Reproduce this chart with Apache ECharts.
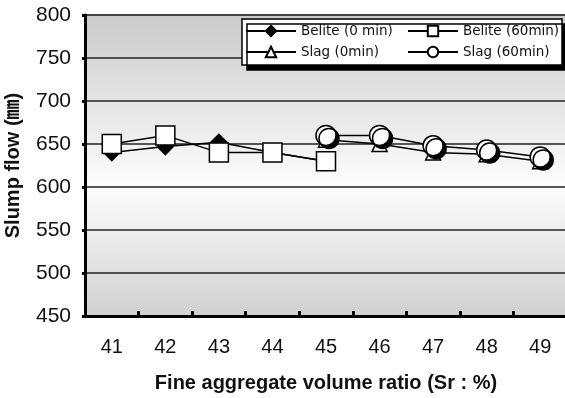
<!DOCTYPE html>
<html>
<head>
<meta charset="utf-8">
<script src="https://cdn.jsdelivr.net/npm/echarts@6/dist/echarts.min.js"></script>
<style>
  html, body { margin: 0; padding: 0; background: #fff; }
  #chart { width: 565px; height: 398px; }
</style>
</head>
<body>
<div id="chart"></div>
<script>
// fine aggregate volume ratio Sr (%)
const ratios = ['41', '42', '43', '44', '45', '46', '47', '48', '49']
// slump flow (mm)
const beliteZero = [640, 647, 652, 640, 630, null, null, null, null]
const beliteSixty = [650, 660, 640, 640, 630, null, null, null, null]
const slagZero = [null, null, null, null, 655, 650, 640, 638, 630]
const slagSixty = [null, null, null, null, 660, 660, 648, 643, 635]
const flowMin = 450
const flowMax = 800
const flowStep = 50

const labelFont = '"Liberation Sans", Arial, "Noto Sans CJK KR", sans-serif'

const makeSeries = (name, data, symbol, size, fill, extra) => {
  return Object.assign({
    name: name,
    type: 'line',
    data: data,
    symbol: symbol,
    symbolSize: size,
    showAllSymbol: true,
    lineStyle: { color: '#000', width: 1.5 },
    itemStyle: { color: fill, borderColor: '#000', borderWidth: 1.5 },
    emphasis: { disabled: true },
  }, extra || {})
}

const legendColumn = (left, names) => ({
  left: left,
  top: 24,
  orient: 'vertical',
  data: names,
  itemWidth: 50,
  itemHeight: 13,
  itemGap: 7,
  padding: 0,
  itemStyle: { shadowColor: 'rgba(0,0,0,0)', shadowOffsetX: 0, shadowOffsetY: 0 },
  textStyle: {
    fontFamily: '"DejaVu Sans", sans-serif',
    fontSize: 13.5,
    color: '#111',
  },
  z: 20,
})

let chart = echarts.init(document.getElementById('chart'))
chart.setOption({
  animation: false,
  backgroundColor: '#fff',
  grid: {
    left: 85,
    top: 15,
    right: -2,
    bottom: 82,
    outerBoundsMode: 'none',
    containLabel: false,
    show: true,
    borderColor: '#999',
    borderWidth: 1.5,
    backgroundColor: new echarts.graphic.LinearGradient(0, 0, 0, 1, [
      { offset: 0, color: '#cacaca' },
      { offset: 0.57, color: '#fdfdfd' },
      { offset: 1, color: '#d0d0d0' },
    ]),
  },
  // legend frame with its hard drop shadow
  graphic: [{
    type: 'rect',
    z: 15,
    shape: { x: 242, y: 19, width: 320, height: 46 },
    style: {
      fill: '#fff',
      stroke: '#000',
      lineWidth: 1.5,
      shadowColor: '#000',
      shadowBlur: 0,
      shadowOffsetX: 5,
      shadowOffsetY: 5,
    },
  }],
  legend: [
    legendColumn(245, ['Belite (0 min)', 'Slag (0min)']),
    legendColumn(407, ['Belite (60min)', 'Slag (60min)']),
  ],
  xAxis: {
    type: 'category',
    data: ratios,
    boundaryGap: true,
    name: 'Fine aggregate volume ratio (Sr : %)',
    nameLocation: 'middle',
    nameGap: 57,
    nameTextStyle: {
      fontFamily: labelFont,
      fontWeight: 'bold',
      fontSize: 20,
      color: '#111',
    },
    axisLine: { lineStyle: { color: '#000', width: 3 } },
    axisTick: {
      show: true,
      inside: true,
      length: 5,
      lineStyle: { color: '#000', width: 3 },
    },
    axisLabel: {
      margin: 21,
      fontFamily: labelFont,
      fontSize: 20,
      color: '#111',
    },
    splitLine: { show: false },
  },
  yAxis: {
    type: 'value',
    min: flowMin,
    max: flowMax,
    interval: flowStep,
    name: 'Slump flow (㎜)',
    nameLocation: 'middle',
    nameGap: 62,
    nameTextStyle: {
      fontFamily: labelFont,
      fontWeight: 'bold',
      fontSize: 20,
      color: '#111',
    },
    axisLine: { show: true, lineStyle: { color: '#000', width: 3 } },
    axisTick: {
      show: true,
      length: 3,
      lineStyle: { color: '#000', width: 3 },
    },
    axisLabel: {
      margin: 14,
      fontFamily: labelFont,
      fontSize: 21,
      color: '#111',
    },
    splitLine: { show: true, lineStyle: { color: '#222', width: 1.5 } },
  },
  series: [
    makeSeries('Belite (0 min)', beliteZero, 'diamond', 16, '#000'),
    makeSeries('Belite (60min)', beliteSixty, 'rect', 19, '#fff'),
    makeSeries('Slag (0min)', slagZero, 'triangle', 15, '#fff'),
    makeSeries('Slag (60min)', slagSixty, 'circle', 20, '#fff', {
      itemStyle: {
        color: '#fff',
        borderColor: '#000',
        borderWidth: 1.5,
        shadowColor: '#000',
        shadowBlur: 0,
        shadowOffsetX: 3,
        shadowOffsetY: 3,
      },
    }),
  ],
})
</script>
</body>
</html>
